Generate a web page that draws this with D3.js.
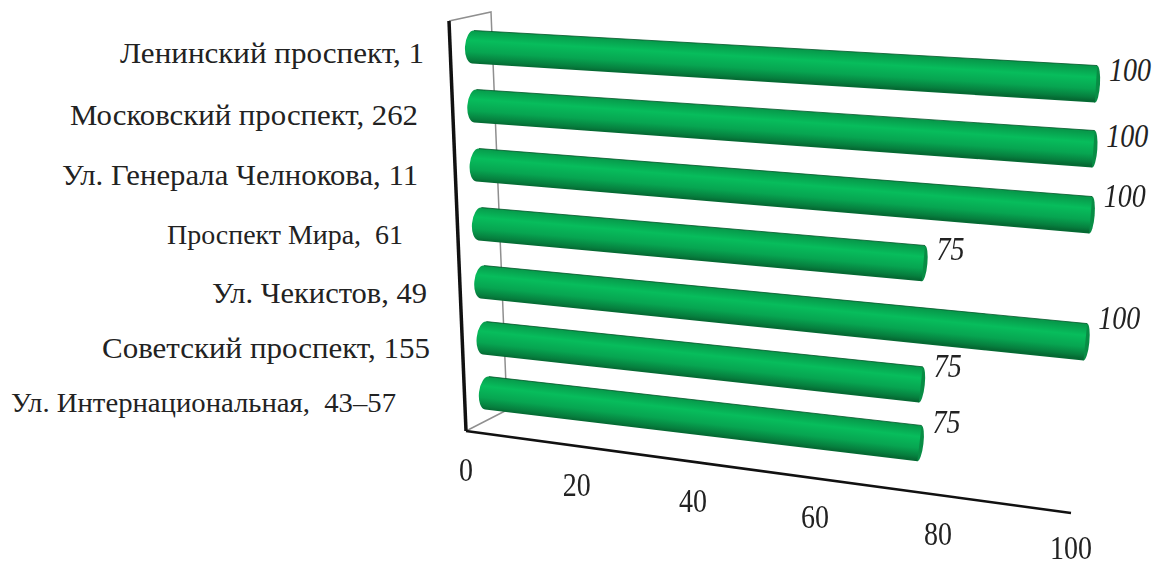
<!DOCTYPE html>
<html>
<head>
  <meta charset="UTF-8">
  <style>
    html, body { margin: 0; background: #fff; }
    text { font-family: "Liberation Serif", serif; fill: #222; white-space: pre; }
  </style>
</head>
<body>
  <svg></svg>
<script src="https://d3js.org/d3.v7.min.js"></script>
<script>
    let width = 1161;
    let height = 566;

    // data
    let categories = ["Ленинский проспект, 1", "Московский проспект, 262", "Ул. Генерала Челнокова, 11",
      "Проспект Мира,  61", "Ул. Чекистов, 49", "Советский проспект, 155", "Ул. Интернациональная,  43–57"];
    let values = [100, 100, 100, 75, 100, 75, 75];
    let tickLabels = [0, 20, 40, 60, 80, 100];

    let svg = d3.select("svg")
        .attr("width", width)
        .attr("height", height)
        .style("display", "block");

    // the chart is a perspective view, so value -> share of the axis length is not linear
    let depth = d3.scaleLinear()
        .domain(tickLabels)
        .range([0, 0.183, 0.375, 0.577, 0.78, 1]);

    let rows = d3.range(categories.length);
    let startX = d3.scaleLinear().domain([0, 6]).range([473, 487]);
    let startY = d3.scaleLinear().domain(rows).range([47, 106, 165, 224, 282, 338, 393]);
    let endX = d3.scaleLinear().domain([0, 6]).range([1096, 1080]);
    let endY = d3.scaleLinear().domain(rows).range([84, 149, 215, 278, 342, 402, 462]);
    let radius = d3.scaleLinear().domain([0, 1]).range([16.5, 18.5]);

    // label anchors, the source picture sets each one by hand
    let labelRight = d3.scaleOrdinal().domain(rows).range([424, 418, 418, 403, 427, 430, 396]);
    let labelWidth = d3.scaleOrdinal().domain(rows).range([304, 348, 356, 236, 215, 328, 385]);
    let labelBase = d3.scaleOrdinal().domain(rows).range([63, 125, 185, 244, 303, 358, 412]);
    let labelSize = d3.scaleOrdinal().domain(rows).range([30, 30, 30, 28, 30, 30, 28]);
    let valueLift = d3.scaleOrdinal().domain(rows).range([14, 13, 19, 14, 24, 19, 21]);

    let axisO = [466, 431], axisX = [1071, 513], axisTop = [449, 21], backTop = [491, 12], backO = [507, 410];

    let defs = svg.append("defs");
    defs.append("filter").attr("id", "soft")
      .attr("color-interpolation-filters", "sRGB")
      .append("feGaussianBlur").attr("stdDeviation", 0.5);

    let bars = rows.map(i => {
      let f = depth(values[i]);
      let x0 = startX(i), y0 = startY(i);
      let x1 = x0 + (endX(i) - x0) * f;
      let y1 = y0 + (endY(i) - y0) * f;
      return {i, f, x0, y0, x1, y1, r0: radius(0), r1: radius(f)};
    });

    // back wall
    svg.append("path")
      .attr("d", d3.line()([axisTop, backTop, backO, axisO]))
      .attr("fill", "none").attr("stroke", "#8f8f8f").attr("stroke-width", 1.5);

    // cylinders
    let barG = svg.append("g").attr("filter", "url(#soft)");
    bars.forEach(d => {
      let a = Math.atan2(d.y1 - d.y0, d.x1 - d.x0);
      let nx = -Math.sin(a), ny = Math.cos(a);
      let g = defs.append("linearGradient").attr("id", "cyl" + d.i)
        .attr("gradientUnits", "userSpaceOnUse")
        .attr("x1", d.x0 - nx * d.r0).attr("y1", d.y0 - ny * d.r0)
        .attr("x2", d.x0 + nx * d.r0).attr("y2", d.y0 + ny * d.r0);
      [[0, "#079a4b"], [0.3, "#07bd5c"], [0.65, "#07a551"], [0.9, "#067f3e"], [1, "#056a33"]]
        .forEach(s => g.append("stop").attr("offset", s[0]).attr("stop-color", s[1]));

      let p = (x, y, r, s) => [x + s * nx * r, y + s * ny * r];
      let t0 = p(d.x0, d.y0, d.r0, -1), b0 = p(d.x0, d.y0, d.r0, 1);
      let t1 = p(d.x1, d.y1, d.r1, -1), b1 = p(d.x1, d.y1, d.r1, 1);
      let deg = a * 180 / Math.PI;
      // end cap goes under the body so only its outer half shows
      barG.append("ellipse")
        .attr("rx", 4).attr("ry", d.r1)
        .attr("transform", `translate(${d.x1},${d.y1}) rotate(${deg})`)
        .attr("fill", "#088d45");
      barG.append("path")
        .attr("d", `M${t0}L${t1}L${b1}L${b0}A8,${d.r0} ${deg} 0 1 ${t0}Z`)
        .attr("fill", `url(#cyl${d.i})`);
      barG.append("path")
        .attr("d", d3.line()([t0, t1]))
        .attr("stroke", "#05562a").attr("stroke-width", 0.8).attr("fill", "none");
    });

    // axes
    let axes = svg.append("g").attr("fill", "none").attr("stroke", "#111");
    axes.append("path").attr("d", d3.line()([axisTop, axisO])).attr("stroke-width", 3.5);
    axes.append("path").attr("d", d3.line()([axisO, axisX])).attr("stroke-width", 2.6);

    // value labels, digits are a bit stretched upward in the source
    svg.append("g").selectAll("text").data(bars).enter().append("text")
      .attr("transform", d => `translate(${d.x1 + 13},${d.y1 - valueLift(d.i) + 11}) scale(1,1.18)`)
      .attr("font-size", 28).attr("font-style", "italic")
      .text(d => values[d.i]);

    // category labels
    svg.append("g").selectAll("text").data(rows).enter().append("text")
      .attr("x", i => labelRight(i) - labelWidth(i))
      .attr("y", i => labelBase(i))
      .attr("textLength", i => labelWidth(i))
      .attr("lengthAdjust", "spacingAndGlyphs")
      .attr("font-size", i => labelSize(i))
      .text(i => categories[i]);

    // tick labels along the floor
    svg.append("g").selectAll("text").data(tickLabels).enter().append("text")
      .attr("transform", t => {
        let x = axisO[0] + (axisX[0] - axisO[0]) * depth(t);
        let y = axisO[1] + (axisX[1] - axisO[1]) * depth(t) + 50;
        return `translate(${x},${Math.min(y, 558.5)}) scale(1,1.18)`;
      })
      .attr("text-anchor", "middle")
      .attr("font-size", 28)
      .text(t => t);
</script>
</body>
</html>
